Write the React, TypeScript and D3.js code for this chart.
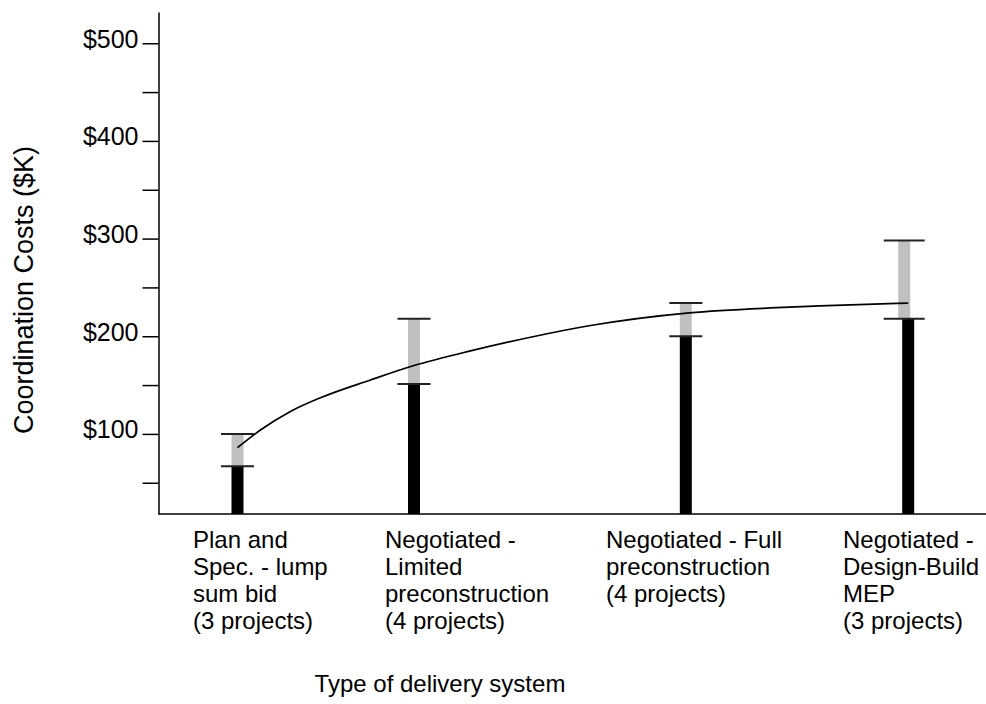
import React, { useEffect, useRef } from "react";
import * as d3 from "d3";

// ---- data ----
const categoryLines: string[][] = [
  ["Plan and", "Spec. - lump", "sum bid", "(3 projects)"],
  ["Negotiated -", "Limited", "preconstruction", "(4 projects)"],
  ["Negotiated - Full", "preconstruction", "(4 projects)"],
  ["Negotiated -", "Design-Build", "MEP", "(3 projects)"],
];
const categoryPos = [1, 2, 3.54, 4.8];
const lowValues = [67, 151, 200, 218];
const highValues = [100, 218, 234, 298];

const trendPos = [1.0, 1.13, 1.3, 1.47, 1.75, 2.0, 2.32, 2.66, 3.0, 3.56, 4.02, 4.3, 4.8];
const trendValues = [86, 104, 123, 137, 155, 170, 185, 199, 211, 224, 229, 231, 234];

const yTickValues = [50, 100, 150, 200, 250, 300, 350, 400, 450, 500];
const yLabelValues = [100, 200, 300, 400, 500];

const yAxisTitle = "Coordination Costs ($K)";
const xAxisTitle = "Type of delivery system";

const W = 986;
const H = 704;
const FONT = "'Liberation Sans', Arial, Helvetica, sans-serif";

export default function App() {
  const axisRef = useRef<SVGGElement>(null);

  const x = d3.scaleLinear().domain([1, 4.8]).range([237.5, 908.2]);
  const y = d3.scaleLinear().domain([18, 532]).range([514, 12]);
  const axisX = 158.5;
  const baseY = y(18);

  useEffect(() => {
    if (!axisRef.current) return;
    const axis = d3
      .axisLeft(y)
      .tickValues(yTickValues)
      .tickFormat((d: any) => (yLabelValues.includes(+d) ? `$${d}` : ""))
      .tickSize(16)
      .tickSizeOuter(0)
      .tickPadding(4);
    const g = d3.select(axisRef.current);
    g.call(axis as any);
    g.select(".domain").attr("stroke", "#000").attr("stroke-width", 1.5);
    g.selectAll(".tick line").attr("stroke", "#000").attr("stroke-width", 1.5);
    g.selectAll(".tick text")
      .attr("fill", "#000")
      .attr("dy", "0.16em")
      .style("font-family", FONT)
      .style("font-size", "25px");
  }, []);

  const line = d3
    .line<number>()
    .x((_, i) => x(trendPos[i]))
    .y((d) => y(d))
    .curve(d3.curveMonotoneX);

  const barW = 12;
  const labelX = [193, 385, 606, 843];

  return (
    <svg
      width={W}
      height={H}
      style={{ position: "absolute", left: 0, top: 0, background: "#fff" }}
      fontFamily={FONT}
    >
      <rect x={0} y={0} width={W} height={H} fill="#fff" />
      {/* bars */}
      {categoryPos.map((p, i) => {
        const cx = x(p);
        const capW = i === 3 ? 41 : 33;
        const shift = i === 3 ? 4 : 0;
        return (
          <g key={i}>
            <rect
              x={cx - barW / 2}
              y={y(lowValues[i])}
              width={barW}
              height={baseY - y(lowValues[i])}
              fill="#000"
            />
            <rect
              x={cx - barW / 2 - shift}
              y={y(highValues[i])}
              width={barW}
              height={y(lowValues[i]) - y(highValues[i])}
              fill="#c0c0c0"
            />
            <line
              x1={cx - capW / 2 - shift}
              x2={cx + capW / 2 - shift}
              y1={y(highValues[i])}
              y2={y(highValues[i])}
              stroke="#222"
              strokeWidth={2}
            />
            <line
              x1={cx - capW / 2 - shift}
              x2={cx + capW / 2 - shift}
              y1={y(lowValues[i])}
              y2={y(lowValues[i])}
              stroke="#222"
              strokeWidth={2}
            />
          </g>
        );
      })}
      {/* trend */}
      <path d={line(trendValues) || ""} fill="none" stroke="#000" strokeWidth={1.7} />
      {/* x axis line */}
      <line x1={axisX} x2={W} y1={baseY} y2={baseY} stroke="#000" strokeWidth={1.5} />
      {/* y axis */}
      <g ref={axisRef} transform={`translate(${axisX},0)`} />
      {/* category labels */}
      {categoryLines.map((lines, i) => (
        <text key={i} x={labelX[i]} y={548} fontSize={24} fill="#000">
          {lines.map((t, j) => (
            <tspan key={j} x={labelX[i]} dy={j === 0 ? 0 : 27}>
              {t}
            </tspan>
          ))}
        </text>
      ))}
      {/* titles */}
      <text
        transform={`translate(33, 290) rotate(-90)`}
        textAnchor="middle"
        fontSize={27}
        fill="#000"
      >
        {yAxisTitle}
      </text>
      <text x={440} y={692} textAnchor="middle" fontSize={24} fill="#000">
        {xAxisTitle}
      </text>
    </svg>
  );
}
